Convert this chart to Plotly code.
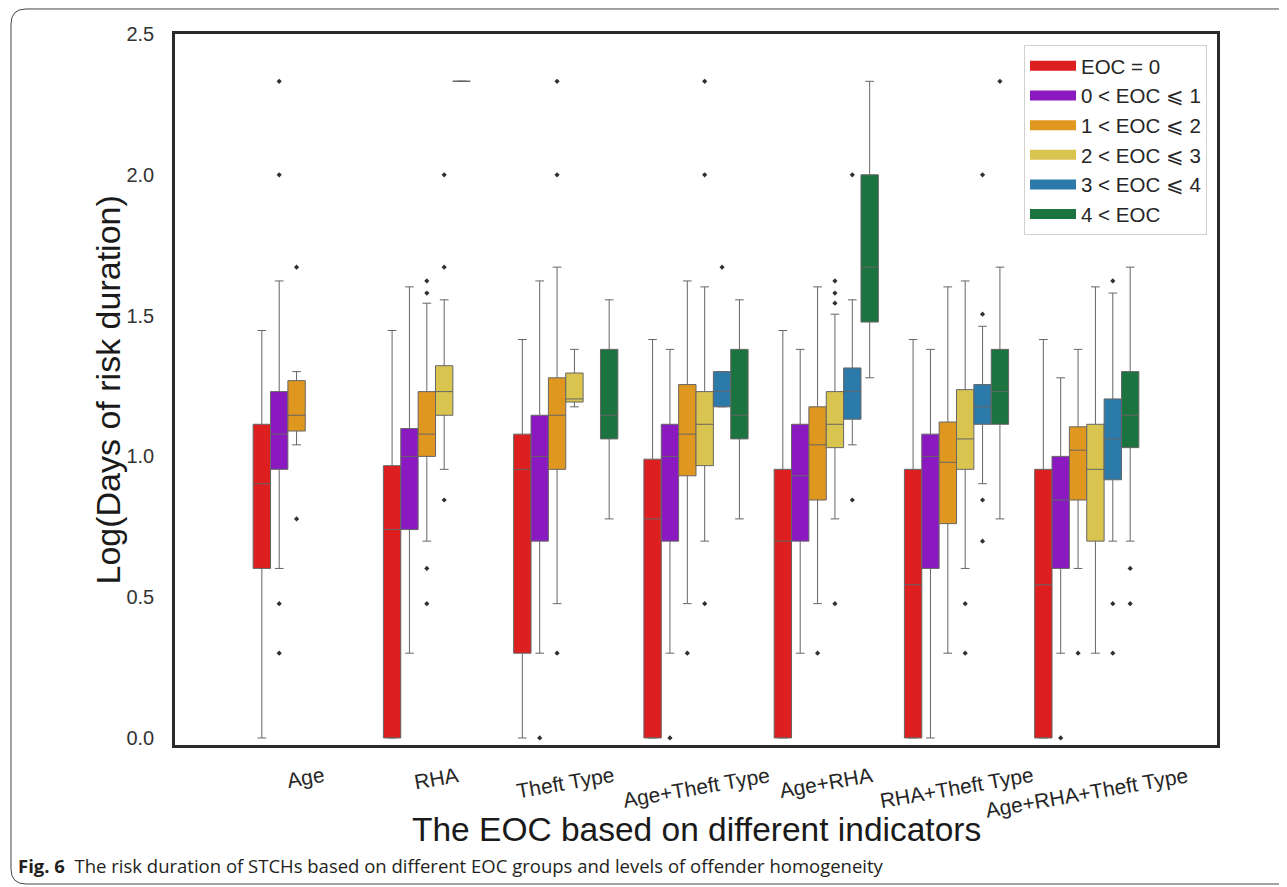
import plotly.graph_objects as go

CATEGORIES = ["Age", "RHA", "Theft Type", "Age+Theft Type", "Age+RHA",
              "RHA+Theft Type", "Age+RHA+Theft Type"]
SERIES = ["EOC = 0", "0 < EOC \u2a7d 1", "1 < EOC \u2a7d 2", "2 < EOC \u2a7d 3",
          "3 < EOC \u2a7d 4", "4 < EOC"]
COLORS = ["#dd1f1f", "#8a1abf", "#e0971f", "#d9c450", "#2b7aaa", "#1b733f"]

# one row per series, one column per category (None = no box)
LOWER = [
    [0, 0, 0, 0, 0, 0, 0],
    [0.602, 0.301, 0.301, 0.301, 0.301, 0, 0.301],
    [1.041, 0.699, 0.477, 0.477, 0.477, 0.301, 0.602],
    [None, 0.954, 1.176, 0.699, 0.778, 0.602, 0.301],
    [None, 2.332, None, 1.176, 1.041, 0.903, 0.699],
    [None, None, 0.778, 0.778, 1.279, 0.778, 0.699],
]
Q1 = [
    [0.602, 0, 0.301, 0, 0, 0, 0],
    [0.954, 0.740, 0.699, 0.699, 0.699, 0.602, 0.602],
    [1.090, 1.0, 0.954, 0.931, 0.845, 0.761, 0.845],
    [None, 1.146, 1.193, 0.967, 1.031, 0.954, 0.699],
    [None, 2.332, None, 1.176, 1.132, 1.114, 0.917],
    [None, None, 1.062, 1.062, 1.477, 1.114, 1.031],
]
MEDIAN = [
    [0.903, 0.740, 0.954, 0.778, 0.699, 0.544, 0.544],
    [1.079, 1.0, 1.0, 1.0, 0.931, 1.0, 0.845],
    [1.146, 1.079, 1.146, 1.079, 1.041, 0.979, 1.022],
    [None, 1.230, 1.204, 1.114, 1.114, 1.062, 0.954],
    [None, 2.332, None, 1.230, 1.230, 1.176, 1.062],
    [None, None, 1.146, 1.146, 1.672, 1.230, 1.146],
]
Q3 = [
    [1.114, 0.967, 1.079, 0.990, 0.954, 0.954, 0.954],
    [1.230, 1.099, 1.146, 1.114, 1.114, 1.079, 1.0],
    [1.269, 1.230, 1.279, 1.255, 1.176, 1.122, 1.105],
    [None, 1.322, 1.296, 1.230, 1.230, 1.237, 1.114],
    [None, 2.332, None, 1.301, 1.314, 1.255, 1.204],
    [None, None, 1.380, 1.380, 2.0, 1.380, 1.301],
]
UPPER = [
    [1.447, 1.447, 1.415, 1.415, 1.447, 1.415, 1.415],
    [1.623, 1.602, 1.623, 1.380, 1.380, 1.380, 1.279],
    [1.301, 1.544, 1.672, 1.623, 1.602, 1.602, 1.380],
    [None, 1.556, 1.380, 1.602, 1.505, 1.623, 1.602],
    [None, 2.332, None, 1.301, 1.556, 1.462, 1.580],
    [None, None, 1.556, 1.556, 2.332, 1.672, 1.672],
]
OUTLIERS = [
    [[], [], [], [], [], [], []],
    [[0.301, 0.477, 2.0, 2.332], [], [0], [0], [], [], [0]],
    [[0.778, 1.672], [0.477, 0.602, 1.580, 1.623], [0.301, 2.0, 2.332], [0.301], [0.301], [], [0.301]],
    [[], [0.845, 1.672, 2.0], [], [0.477, 2.0, 2.332], [0.477, 1.544, 1.580, 1.623], [0.301, 0.477], []],
    [[], [], [], [1.672], [0.845, 2.0], [0.699, 0.845, 1.505, 2.0], [0.301, 0.477, 1.623]],
    [[], [], [], [], [], [2.332], [0.477, 0.602]],
]
Y_TICKS = [0.0, 0.5, 1.0, 1.5, 2.0, 2.5]

FONT = "Liberation Sans, Arial, sans-serif"

fig = go.Figure()
for s, name in enumerate(SERIES):
    idx = [i for i in range(len(CATEGORIES)) if Q1[s][i] is not None]
    fig.add_trace(go.Box(
        name=name,
        x=[CATEGORIES[i] for i in idx],
        # sample points per box (only the outliers matter); [None] keeps rows non-empty
        y=[OUTLIERS[s][i] if OUTLIERS[s][i] else [None] for i in idx],
        lowerfence=[LOWER[s][i] for i in idx],
        q1=[Q1[s][i] for i in idx],
        median=[MEDIAN[s][i] for i in idx],
        q3=[Q3[s][i] for i in idx],
        upperfence=[UPPER[s][i] for i in idx],
        boxpoints="outliers",
        jitter=0,
        pointpos=0,
        fillcolor=COLORS[s],
        line=dict(color="#666666", width=1),
        marker=dict(symbol="diamond", size=4, color="#303030"),
        whiskerwidth=0.5,
        showlegend=False,
        hoverinfo="skip",
    ))

# legend entries (wide colour swatches)
for s, name in enumerate(SERIES):
    fig.add_trace(go.Scatter(
        x=[None], y=[None], mode="lines", name=name,
        line=dict(color=COLORS[s], width=14),
        hoverinfo="skip",
    ))

# x tick labels, rotated
annotations = []
for c in CATEGORIES:
    annotations.append(dict(
        x=c, xref="x", y=-0.022, yref="paper", text=c, showarrow=False,
        textangle=-10, xanchor="center", yanchor="top",
        font=dict(family=FONT, size=21, color="#262626"),
    ))
annotations.append(dict(
    x=0.5, xref="paper", y=-0.1195, yref="paper",
    text="The EOC based on different indicators", showarrow=False,
    xanchor="center", yanchor="middle",
    font=dict(family=FONT, size=33.5, color="#1a1a1a"),
))
annotations.append(dict(
    x=-0.0643, xref="paper", y=0.5, yref="paper",
    text="Log(Days of risk duration)", showarrow=False, textangle=-90,
    xanchor="center", yanchor="middle",
    font=dict(family=FONT, size=34, color="#1a1a1a"),
))
annotations.append(dict(
    x=-0.1526, xref="paper", y=-0.170, yref="paper",
    text="<b>Fig. 6</b>  The risk duration of STCHs based on different EOC groups and levels of offender homogeneity",
    showarrow=False, xanchor="left", yanchor="middle",
    font=dict(family="Open Sans, Noto Sans, sans-serif", size=18.5, color="#231f20"),
))

# outer rounded frame
x0, x1 = -0.1574, 1.08
y0, y1 = -0.1955, 1.0352
rx, ry = 0.0144, 0.0211
frame_path = (f"M {x1},{y1} L {x0+rx},{y1} Q {x0},{y1} {x0},{y1-ry} "
              f"L {x0},{y0+ry} Q {x0},{y0} {x0+rx},{y0} L {x1},{y0}")

# page body adds an 8px margin, so the figure is 8px smaller and margins shifted
fig.update_layout(
    width=1279, height=879,
    margin=dict(l=167, r=70, t=26, b=142),
    paper_bgcolor="white", plot_bgcolor="white",
    boxmode="group", boxgap=0.2, boxgroupgap=0,
    font=dict(family=FONT, color="#262626"),
    annotations=annotations,
    shapes=[dict(type="path", path=frame_path, xref="paper", yref="paper",
                 line=dict(color="#444444", width=1), layer="below")],
    legend=dict(
        x=0.9904, xanchor="right", y=0.9845, yanchor="top",
        bgcolor="white", bordercolor="#d0d0d0", borderwidth=1,
        font=dict(family=FONT, size=20.5, color="#262626"),
        itemwidth=46,
    ),
)
fig.update_xaxes(
    type="category", categoryorder="array", categoryarray=CATEGORIES,
    range=[-1, 7], showticklabels=False, ticks="",
    showline=True, mirror=True, linecolor="#2a2a2a", linewidth=2.5,
    showgrid=False, zeroline=False,
)
fig.update_yaxes(
    range=[-0.025, 2.5], tickvals=Y_TICKS, ticktext=[f"{v:.1f}" for v in Y_TICKS],
    ticks="", ticklabelstandoff=14,
    tickfont=dict(family=FONT, size=20, color="#333333"),
    showline=True, mirror=True, linecolor="#2a2a2a", linewidth=2.5,
    showgrid=False, zeroline=False,
)

fig.write_html("out.html")
